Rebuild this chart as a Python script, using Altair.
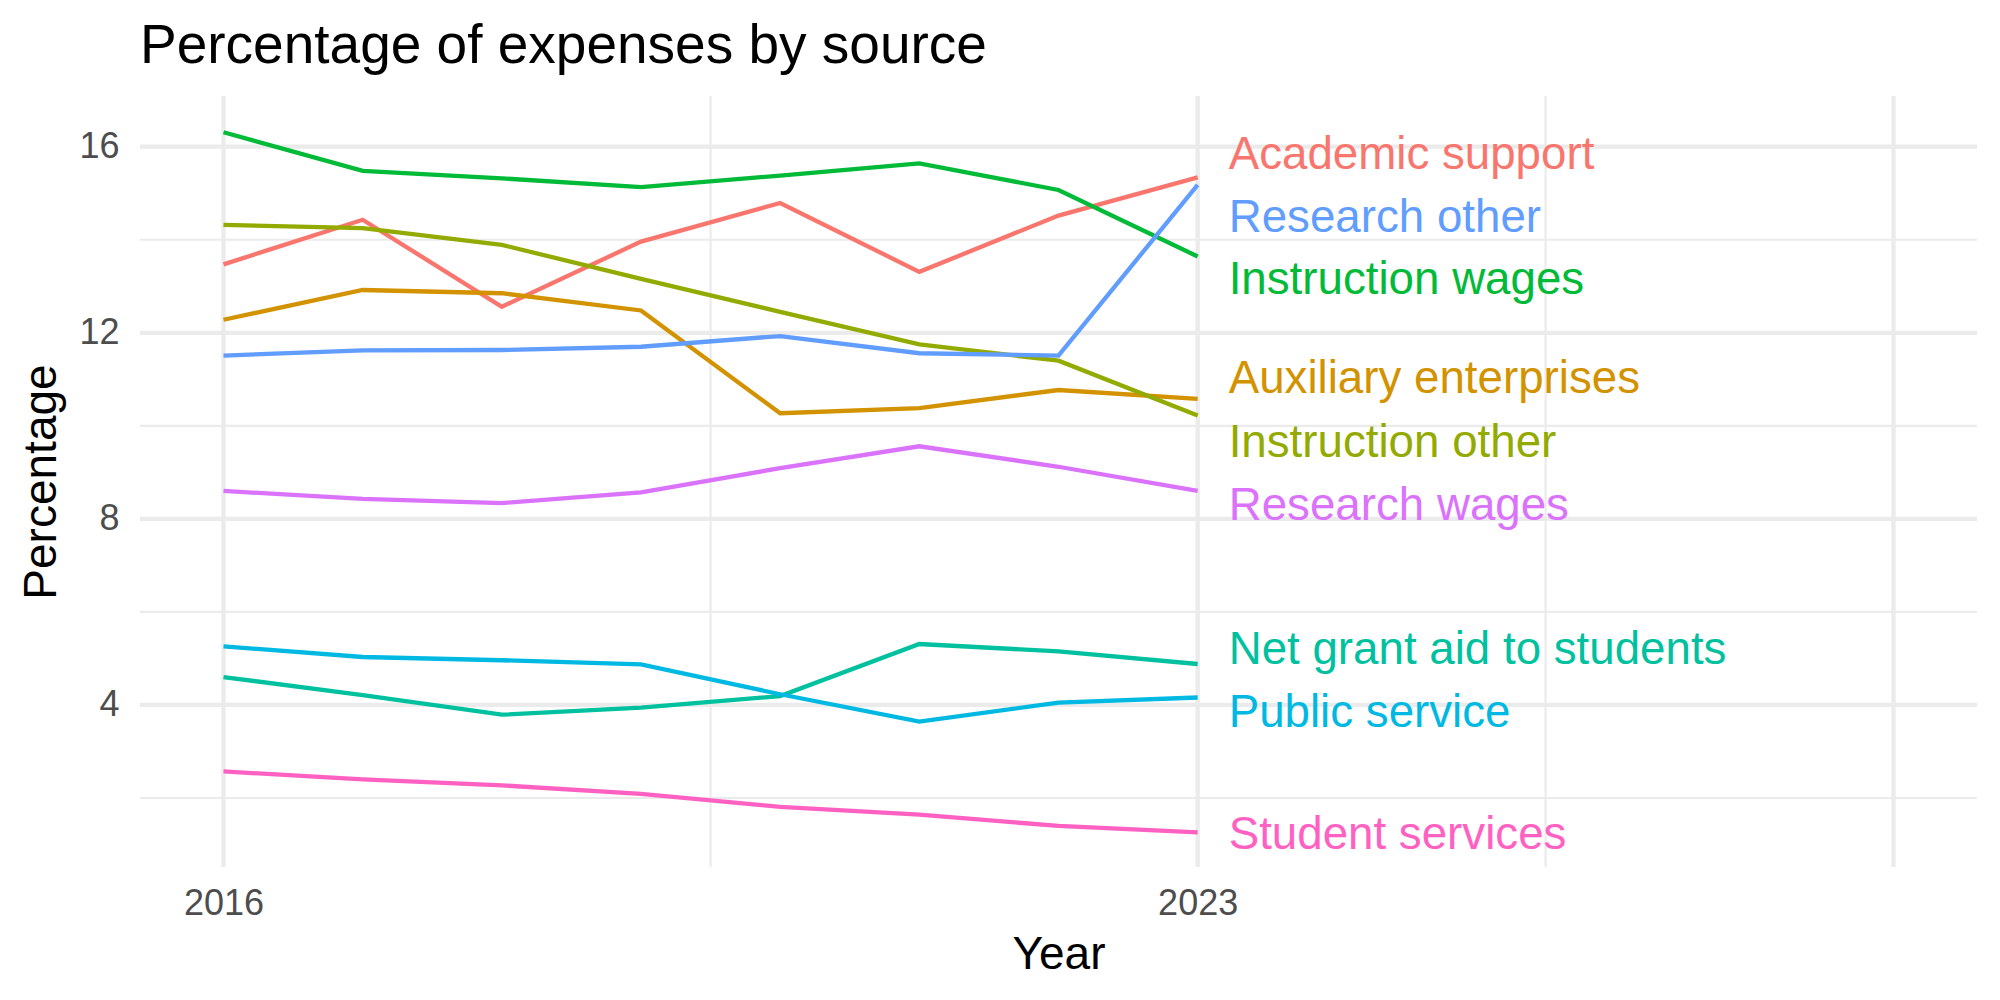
import altair as alt
import pandas as pd

# ---- data ----
years = [2016, 2017, 2018, 2019, 2020, 2021, 2022, 2023]

sources = [
    "Academic support",
    "Auxiliary enterprises",
    "Instruction other",
    "Instruction wages",
    "Net grant aid to students",
    "Public service",
    "Research other",
    "Research wages",
    "Student services",
]

academic_support = [13.47, 14.43, 12.56, 13.96, 14.79, 13.31, 14.52, 15.34]
auxiliary_enterprises = [12.28, 12.92, 12.85, 12.48, 10.27, 10.38, 10.77, 10.58]
instruction_other = [14.32, 14.25, 13.89, 13.16, 12.45, 11.75, 11.40, 10.22]
instruction_wages = [16.31, 15.48, 15.32, 15.13, 15.38, 15.64, 15.07, 13.64]
net_grant_aid = [4.60, 4.21, 3.79, 3.94, 4.19, 5.31, 5.15, 4.88]
public_service = [5.26, 5.03, 4.96, 4.87, 4.23, 3.64, 4.05, 4.16]
research_other = [11.51, 11.62, 11.63, 11.70, 11.93, 11.56, 11.51, 15.18]
research_wages = [8.60, 8.43, 8.34, 8.57, 9.09, 9.56, 9.12, 8.60]
student_services = [2.57, 2.40, 2.27, 2.09, 1.81, 1.64, 1.40, 1.26]

series_values = [
    academic_support, auxiliary_enterprises, instruction_other,
    instruction_wages, net_grant_aid, public_service,
    research_other, research_wages, student_services,
]

# repelled label positions (baseline, in percentage units)
label_y = [15.51, 10.70, 9.34, 12.83, 4.87, 3.53, 14.17, 7.97, 0.91]

colors = ["#F8766D", "#D39200", "#93AA00", "#00BA38", "#00C19F",
          "#00B9E3", "#619CFF", "#DB72FB", "#FF61C3"]

x_major = [2016, 2023, 2028]
x_minor = [2019.5, 2025.5]
y_major = [4, 8, 12, 16]
y_minor = [2, 6, 10, 14]
x_ticks = [2016, 2023]

# ---- tables ----
rows = []
for s, vals in zip(sources, series_values):
    for yr, v in zip(years, vals):
        rows.append({"source": s, "year": yr, "pct": v})
df = pd.DataFrame(rows)

lab = pd.DataFrame({"source": sources, "year": [years[-1]] * len(sources), "ly": label_y})

FONT = "Liberation Sans"
GRID = "#EBEBEB"

x_scale = alt.Scale(domain=[2015.4, 2028.6], nice=False, zero=False)
y_scale = alt.Scale(domain=[0.516, 17.09], nice=False, zero=False)
c_scale = alt.Scale(domain=sources, range=colors)

x_axis = alt.Axis(values=x_ticks, format="d", grid=False, domain=False, ticks=False,
                  labelFont=FONT, labelFontSize=36, labelColor="#4D4D4D", labelPadding=19,
                  title="Year", titleFont=FONT, titleFontSize=46, titleFontWeight="normal",
                  titleColor="black", titleBaseline="alphabetic", titleY=101)
y_axis = alt.Axis(values=y_major, grid=False, domain=False, ticks=False,
                  labelFont=FONT, labelFontSize=36, labelColor="#4D4D4D", labelPadding=21,
                  title="Percentage", titleFont=FONT, titleFontSize=46, titleFontWeight="normal",
                  titleColor="black", titleBaseline="alphabetic", titleX=-85)

def vrules(vals, width):
    return alt.Chart(pd.DataFrame({"v": vals})).mark_rule(color=GRID, strokeWidth=width).encode(
        x=alt.X("v:Q", scale=x_scale, axis=x_axis, title="Year"))

def hrules(vals, width):
    return alt.Chart(pd.DataFrame({"v": vals})).mark_rule(color=GRID, strokeWidth=width).encode(
        y=alt.Y("v:Q", scale=y_scale, axis=y_axis, title="Percentage"))

grid = vrules(x_minor, 2.15) + hrules(y_minor, 2.15) + vrules(x_major, 4.3) + hrules(y_major, 4.3)

lines = alt.Chart(df).mark_line(strokeWidth=4.3).encode(
    x=alt.X("year:Q", scale=x_scale, axis=x_axis, title="Year"),
    y=alt.Y("pct:Q", scale=y_scale, axis=y_axis, title="Percentage"),
    color=alt.Color("source:N", scale=c_scale, legend=None),
    detail="source:N",
)

labels = alt.Chart(lab).mark_text(align="left", baseline="alphabetic", dx=31,
                                  fontSize=45.7, font=FONT).encode(
    x=alt.X("year:Q", scale=x_scale, axis=x_axis, title="Year"),
    y=alt.Y("ly:Q", scale=y_scale, axis=y_axis, title="Percentage"),
    text="source:N",
    color=alt.Color("source:N", scale=c_scale, legend=None),
)

chart = alt.layer(grid, lines, labels).properties(
    width=1837,
    height=771,
    autosize=alt.AutoSizeParams(type="none"),
    padding={"left": 140, "top": 96, "right": 23, "bottom": 133},
    background="white",
    title=alt.TitleParams("Percentage of expenses by source", anchor="start", frame="group",
                          font=FONT, fontSize=55, fontWeight="normal", color="black",
                          baseline="alphabetic", offset=22, dy=46),
).configure_view(stroke=None)

chart.save("out.html", embed_options={"renderer": "svg", "actions": False})
